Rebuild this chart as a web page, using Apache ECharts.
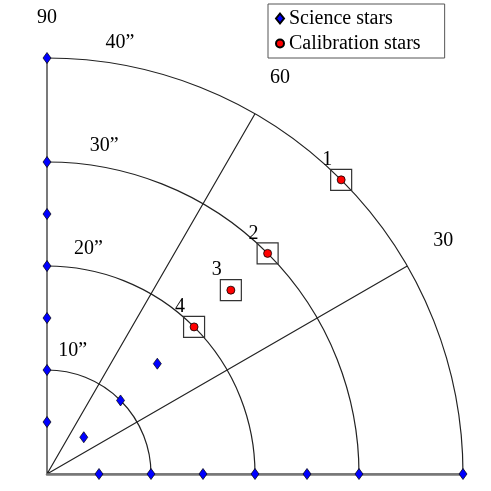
<!DOCTYPE html>
<html>
<head>
<meta charset="utf-8">
<script src="https://cdn.jsdelivr.net/npm/echarts@6/dist/echarts.min.js"></script>
<style>
  html, body { margin: 0; padding: 0; background: #fff; }
  #chart { width: 491px; height: 491px; }
</style>
</head>
<body>
<div id="chart"></div>
<script>
const scienceR = [5, 10, 15, 20, 25, 30, 40, 5, 10, 15, 20, 25, 30, 40, 5, 10, 15];
const scienceAngle = [0, 0, 0, 0, 0, 0, 0, 90, 90, 90, 90, 90, 90, 90, 45, 45, 45];

const calibNames = ["1", "2", "3", "4"];
const calibR = [40, 30, 25, 20];
const calibAngle = [45, 45, 45, 45];

const radiusTicks = [10, 20, 30, 40];
const radiusTickLabels = ["10\u201d", "20\u201d", "30\u201d", "40\u201d"];
const angleTicks = [0, 30, 60, 90];
const angleTickLabels = ["", "30", "60", "90"];

const font = "Liberation Serif";
const fontSize = 20;

const chart = echarts.init(document.getElementById("chart"));
chart.setOption({
  animation: false,
  textStyle: { fontFamily: font },
  legend: {
    left: 268,
    top: 4,
    orient: "vertical",
    padding: [4, 24, 4, 7],
    itemGap: 4,
    itemWidth: 8,
    itemHeight: 10,
    borderColor: "#555",
    borderWidth: 1,
    backgroundColor: "#fff",
    textStyle: { fontFamily: font, fontSize: fontSize, color: "#000", lineHeight: 21 },
    data: [
      { name: "Science stars", icon: "diamond" },
      { name: "Calibration stars", icon: "circle" }
    ]
  },
  polar: { center: [47, 474], radius: 416 },
  angleAxis: {
    type: "value",
    min: 0,
    max: 90,
    interval: 30,
    startAngle: 0,
    endAngle: 90,
    clockwise: false,
    axisLine: { show: false },
    axisTick: { show: false },
    axisLabel: {
      margin: 30,
      fontFamily: font,
      fontSize: fontSize,
      color: "#000",
      formatter: (v) => angleTickLabels[angleTicks.indexOf(v)] ?? ""
    },
    splitLine: { show: true, lineStyle: { color: "#222", width: 1.2 } }
  },
  radiusAxis: {
    type: "value",
    min: 0,
    max: 40,
    interval: 10,
    axisLine: { show: true, lineStyle: { color: "#777", width: 2.5 } },
    axisTick: { show: false },
    axisLabel: { show: false },
    splitLine: { show: true, lineStyle: { color: "#222", width: 1.2 } }
  },
  series: [
    {
      name: "radius labels",
      type: "scatter",
      coordinateSystem: "polar",
      symbolSize: 0,
      silent: true,
      z: 1,
      itemStyle: { opacity: 1 },
      data: radiusTicks.map((r, i) => ({ value: [r, 81.3], name: radiusTickLabels[i] })),
      label: {
        show: true,
        position: "inside",
        offset: [10, -20],
        fontFamily: font,
        fontSize: fontSize,
        color: "#000",
        textBorderWidth: 0,
        formatter: (p) => p.name
      }
    },
    {
      name: "boxes",
      type: "scatter",
      coordinateSystem: "polar",
      symbol: "rect",
      symbolSize: 21,
      z: 2,
      itemStyle: { color: "rgba(0,0,0,0)", borderColor: "#333", borderWidth: 1.2, opacity: 1 },
      data: calibR.map((r, i) => ({ value: [r, calibAngle[i]], name: calibNames[i] })),
      label: {
        show: true,
        position: "inside",
        offset: [-14, -20],
        fontFamily: font,
        fontSize: fontSize,
        color: "#000",
        textBorderWidth: 0,
        formatter: (p) => p.name
      }
    },
    {
      name: "Calibration stars",
      type: "scatter",
      coordinateSystem: "polar",
      symbol: "circle",
      symbolSize: 8,
      z: 3,
      itemStyle: { color: "#ff0000", borderColor: "#000", borderWidth: 0.8, opacity: 1 },
      data: calibR.map((r, i) => [r, calibAngle[i]])
    },
    {
      name: "Science stars",
      type: "scatter",
      coordinateSystem: "polar",
      symbol: "diamond",
      symbolSize: [8, 11],
      z: 3,
      itemStyle: { color: "#0000ff", borderColor: "#000", borderWidth: 0.7, opacity: 1 },
      data: scienceR.map((r, i) => [r, scienceAngle[i]])
    }
  ]
});
</script>
</body>
</html>
